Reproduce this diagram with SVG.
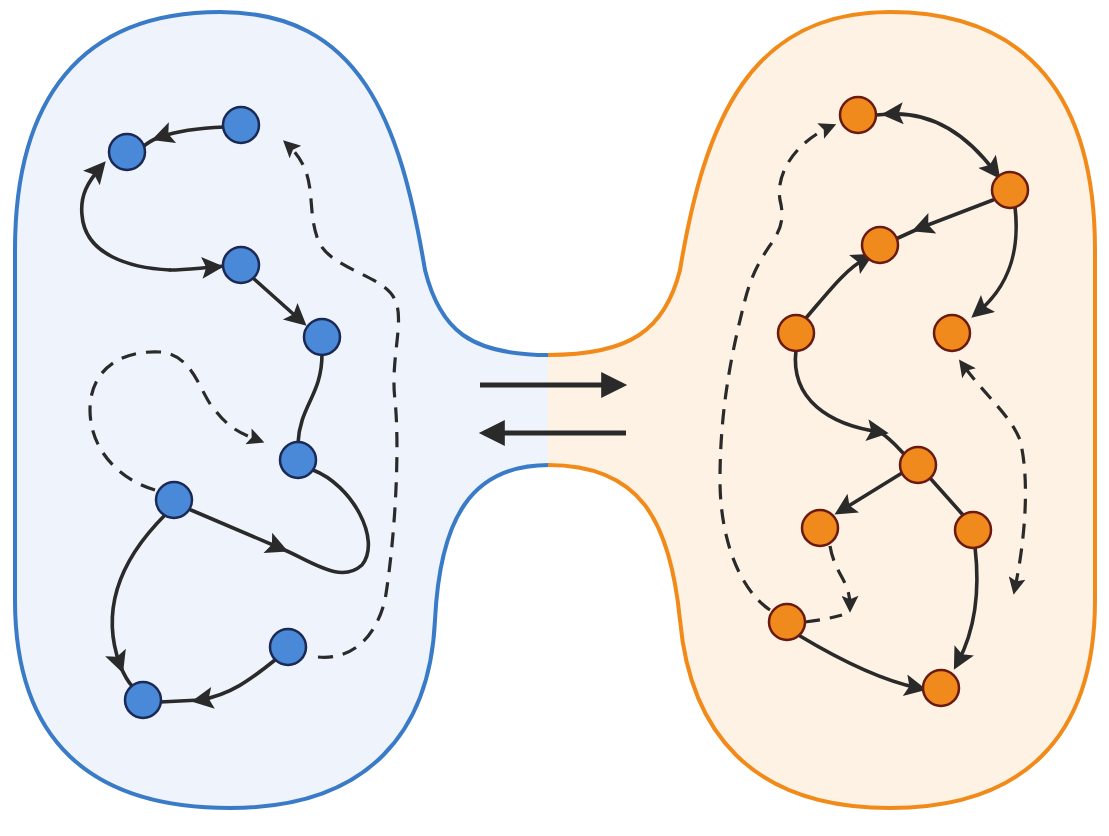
<svg xmlns="http://www.w3.org/2000/svg" width="1109" height="836" viewBox="0 0 1109 836">
<defs>
<style>
.e{fill:none;stroke:#2a2a2a;stroke-width:3.6;stroke-linecap:round}
.d{fill:none;stroke:#2a2a2a;stroke-width:3.2;stroke-dasharray:15 10}
.b{fill:#4a88d8;stroke:#1a2a55;stroke-width:2.5}
.o{fill:#f08a1c;stroke:#6a1a10;stroke-width:2.5}
.big{fill:none;stroke:#2a2a2a;stroke-width:5}
</style>
<marker id="ah" viewBox="0 0 10 10" refX="6" refY="5" markerWidth="26" markerHeight="22" markerUnits="userSpaceOnUse" orient="auto-start-reverse"><path d="M0,0 L10,5 L0,10 L2,5 Z" fill="#2a2a2a"/></marker>
<marker id="ahs" viewBox="0 0 10 10" refX="6" refY="5" markerWidth="20" markerHeight="17" markerUnits="userSpaceOnUse" orient="auto-start-reverse"><path d="M0,0 L10,5 L0,10 L2,5 Z" fill="#2a2a2a"/></marker>
<marker id="bh" viewBox="0 0 10 10" refX="8" refY="5" markerWidth="30" markerHeight="26" markerUnits="userSpaceOnUse" orient="auto"><path d="M0,0 L10,5 L0,10 Z" fill="#2a2a2a"/></marker>
</defs>
<g id="left-region">
<path d="M549,355 C470,355 440,330 425,270 C400,120 360,12 220,12 C80,12 15,100 15,250 L15,600 C15,740 90,808 230,808 C370,808 430,730 435,620 C440,520 470,465 549,465 Z" fill="#eef3fc" stroke="none"/>
<path d="M549,355 C470,355 440,330 425,270 C400,120 360,12 220,12 C80,12 15,100 15,250 L15,600 C15,740 90,808 230,808 C370,808 430,730 435,620 C440,520 470,465 549,465" fill="none" stroke="#3a7bc8" stroke-width="4"/>
</g>
<g id="right-region">
<path d="M548,355 C630,355 665,330 680,270 C705,120 750,12 890,12 C1030,12 1095,100 1095,250 L1095,600 C1095,740 1020,808 890,808 C750,808 690,730 680,620 C670,520 640,465 548,465 Z" fill="#fdf2e4" stroke="none"/>
<path d="M548,355 C630,355 665,330 680,270 C705,120 750,12 890,12 C1030,12 1095,100 1095,250 L1095,600 C1095,740 1020,808 890,808 C750,808 690,730 680,620 C670,520 640,465 548,465" fill="none" stroke="#f28a1a" stroke-width="4"/>
</g>
<g id="connectors">
<path class="big" d="M480,385 L622,385" marker-end="url(#bh)"/>
<path class="big" d="M626,433 L484,433" marker-end="url(#bh)"/>
<path class="e" d="M224,127 C200,128 180,130 160,137" marker-end="url(#ah)"/>
<path class="e" d="M160,137 C152,140 147,143 143,147"/>
<path class="e" d="M170,270 C130,268 85,255 82,215 C80,195 88,182 100,168" marker-end="url(#ah)"/>
<path class="e" d="M170,270 C185,270 200,268 215,267" marker-end="url(#ah)"/>
<path class="e" d="M215,267 L224,266"/>
<path class="e" d="M253,278 L300,320" marker-end="url(#ah)"/>
<path class="e" d="M322,354 C322,395 300,405 298,443"/>
<path class="e" d="M191,510 L280,548" marker-end="url(#ah)"/>
<path class="e" d="M280,548 C310,560 340,585 362,565 C382,540 352,485 313,470"/>
<path class="e" d="M165,515 C120,560 100,610 120,665" marker-end="url(#ah)"/>
<path class="e" d="M120,665 C124,675 128,682 133,687"/>
<path class="e" d="M275,660 C250,680 230,695 200,700" marker-end="url(#ah)"/>
<path class="e" d="M200,700 L160,702"/>
<path class="d" d="M318,657 C350,660 375,640 385,600 C395,540 400,450 395,400 C390,360 405,320 395,300 C385,275 330,270 318,240 C305,205 320,175 288,145" marker-end="url(#ahs)"/>
<path class="d" d="M155,490 C120,480 90,450 90,410 C90,370 120,350 160,352 C195,355 200,395 215,410 C230,430 245,435 258,440" marker-end="url(#ahs)"/>
<path class="e" d="M890,114 C930,112 965,132 995,172" marker-start="url(#ah)" marker-end="url(#ah)"/>
<path class="e" d="M876,115 L890,114"/>
<path class="e" d="M993,200 L920,228" marker-end="url(#ah)"/>
<path class="e" d="M920,228 L898,238"/>
<path class="e" d="M1015,207 C1020,250 1010,285 978,312" marker-end="url(#ah)"/>
<path class="e" d="M806,318 C830,290 845,270 866,258" marker-end="url(#ah)"/>
<path class="e" d="M796,350 C790,400 830,425 880,432" marker-end="url(#ah)"/>
<path class="e" d="M880,432 C892,440 898,448 905,455"/>
<path class="e" d="M902,473 L842,510" marker-end="url(#ah)"/>
<path class="e" d="M930,478 L963,515"/>
<path class="e" d="M975,547 C980,590 975,630 958,662" marker-end="url(#ah)"/>
<path class="e" d="M800,636 C840,660 880,680 918,688" marker-end="url(#ah)"/>
<path class="d" d="M770,610 C740,590 720,540 720,480 C720,400 735,340 745,300 C760,240 790,240 780,200 C775,170 800,140 830,127" marker-end="url(#ahs)"/>
<path class="d" d="M830,546 C835,575 850,580 850,606" marker-end="url(#ahs)"/>
<path class="d" d="M805,622 C820,620 832,618 842,615"/>
<path class="d" d="M1015,588 C1025,540 1030,480 1020,440 C1010,415 985,395 963,365" marker-start="url(#ahs)" marker-end="url(#ahs)"/>
</g>
<g id="blue-nodes">
<circle id="b1" class="b" cx="127" cy="152" r="18"/>
<circle id="b2" class="b" cx="241" cy="125" r="18"/>
<circle id="b3" class="b" cx="241" cy="265" r="18"/>
<circle id="b4" class="b" cx="322" cy="337" r="18"/>
<circle id="b5" class="b" cx="298" cy="460" r="18"/>
<circle id="b6" class="b" cx="174" cy="500" r="18"/>
<circle id="b7" class="b" cx="288" cy="647" r="18"/>
<circle id="b8" class="b" cx="143" cy="700" r="18"/>
</g>
<g id="orange-nodes">
<circle id="o1" class="o" cx="858" cy="115" r="18"/>
<circle id="o2" class="o" cx="1010" cy="190" r="18"/>
<circle id="o3" class="o" cx="880" cy="245" r="18"/>
<circle id="o4" class="o" cx="952" cy="333" r="18"/>
<circle id="o5" class="o" cx="796" cy="333" r="18"/>
<circle id="o6" class="o" cx="918" cy="465" r="18"/>
<circle id="o7" class="o" cx="820" cy="528" r="18"/>
<circle id="o8" class="o" cx="973" cy="530" r="18"/>
<circle id="o9" class="o" cx="787" cy="622" r="18"/>
<circle id="o10" class="o" cx="941" cy="688" r="18"/>
</g>
</svg>
